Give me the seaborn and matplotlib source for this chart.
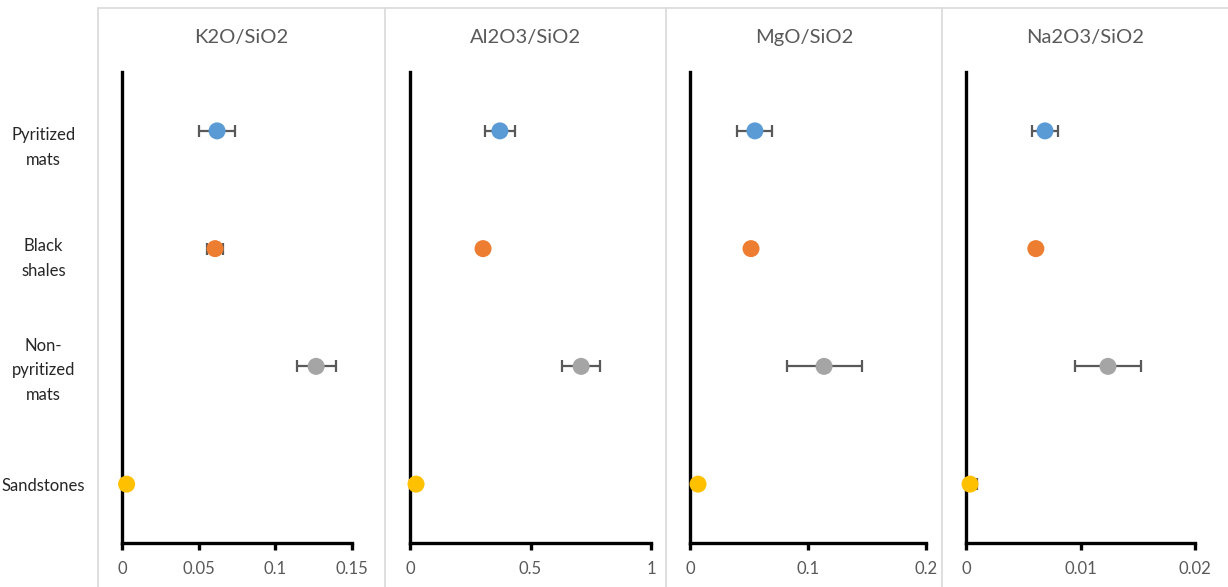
import matplotlib
matplotlib.use("Agg")
import matplotlib.pyplot as plt
import matplotlib.transforms as mtransforms
import seaborn as sns
import pandas as pd
from matplotlib.lines import Line2D

# Sample groups, top to bottom
groups = ["Pyritized\nmats", "Black\nshales", "Non-\npyritized\nmats", "Sandstones"]
group_colors = ["#5B9BD5", "#ED7D31", "#A5A5A5", "#FFC000"]

# Oxide ratios: mean and error for each group
ratio_titles = ["K2O/SiO2", "Al2O3/SiO2", "MgO/SiO2", "Na2O3/SiO2"]

k2o_mean = [0.062, 0.0607, 0.1266, 0.003]
k2o_err = [0.0117, 0.005, 0.0127, 0.0]

al2o3_mean = [0.373, 0.303, 0.710, 0.025]
al2o3_err = [0.062, 0.0, 0.079, 0.0]

mgo_mean = [0.055, 0.0517, 0.1136, 0.0068]
mgo_err = [0.0148, 0.0, 0.0318, 0.0]

na2o3_mean = [0.0069, 0.0061, 0.0124, 0.00035]
na2o3_err = [0.00114, 0.0, 0.00288, 0.0006]

x_limits = [0.15, 1.0, 0.2, 0.02]
x_ticks = [[0, 0.05, 0.1, 0.15], [0, 0.5, 1], [0, 0.1, 0.2], [0, 0.01, 0.02]]
x_ticklabels = [["0", "0.05", "0.1", "0.15"], ["0", "0.5", "1"],
                ["0", "0.1", "0.2"], ["0", "0.01", "0.02"]]

means = [k2o_mean, al2o3_mean, mgo_mean, na2o3_mean]
errs = [k2o_err, al2o3_err, mgo_err, na2o3_err]

sns.set_theme(style="white")
plt.rcParams["font.family"] = ["Lato", "DejaVu Sans"]

W, H = 1228, 587
fig = plt.figure(figsize=(W / 100, H / 100), dpi=100)

# Pixel geometry of each panel: (axis left, axis right) and box edges
axis_px = [(122, 352), (410, 651), (690, 926), (966, 1195)]
box_edges = [98, 385, 666, 942, 1228]
axis_top, axis_bottom = 72, 543
box_top = 8
text_gray = "#595959"
border_gray = "#D9D9D9"
# Vertical nudge of the category labels, in pixels (negative = down)
label_nudge_px = [-11, -4, 2, 0]

for i in range(4):
    left, right = axis_px[i]
    ax = fig.add_axes([left / W, (H - axis_bottom) / H,
                       (right - left) / W, (axis_bottom - axis_top) / H])
    df = pd.DataFrame({"group": groups, "pos": range(len(groups)),
                       "value": means[i], "err": errs[i]})
    for _, row in df.iterrows():
        if row["err"] > 0:
            ax.errorbar(row["value"], row["pos"], xerr=row["err"], fmt="none",
                        ecolor=text_gray, elinewidth=1.6, capsize=4.5,
                        capthick=1.6, zorder=2)
    sns.scatterplot(data=df, x="value", y="pos", hue="group",
                    palette=group_colors, s=150, edgecolor="none",
                    legend=False, ax=ax, zorder=3, clip_on=False)
    ax.set_xlim(0, x_limits[i])
    ax.set_ylim(len(groups) - 0.5, -0.5)
    ax.set_xticks(x_ticks[i])
    ax.set_xticklabels(x_ticklabels[i], color=text_gray, fontsize=12)
    ax.set_xlabel("")
    ax.set_ylabel("")
    for side in ["top", "right"]:
        ax.spines[side].set_visible(False)
    for side in ["left", "bottom"]:
        ax.spines[side].set_color("black")
        ax.spines[side].set_linewidth(2.4)
    ax.tick_params(axis="x", bottom=True, direction="out", length=5,
                   width=2.4, color="black", pad=8)
    ax.set_yticks(range(len(groups)))
    if i == 0:
        ax.set_yticklabels(groups, fontsize=12, color="#262626",
                           ha="center", linespacing=1.65)
        ax.tick_params(axis="y", left=False, pad=50.5)
        for lab, dy in zip(ax.get_yticklabels(), label_nudge_px):
            shift = mtransforms.ScaledTranslation(0, dy / 100, fig.dpi_scale_trans)
            lab.set_transform(lab.get_transform() + shift)
    else:
        ax.set_yticklabels([])
        ax.tick_params(axis="y", left=False)
    ax.patch.set_alpha(0)

    # Panel title centred over its box
    cx = (box_edges[i] + box_edges[i + 1]) / 2
    fig.text(cx / W, (H - 38) / H, ratio_titles[i], ha="center", va="center",
             fontsize=14.5, color=text_gray)

# Thin frame separating the panels
for x in box_edges[:-1]:
    fig.add_artist(Line2D([x / W, x / W], [0, (H - box_top) / H],
                          color=border_gray, linewidth=1.2))
fig.add_artist(Line2D([box_edges[0] / W, 1], [(H - box_top) / H] * 2,
                      color=border_gray, linewidth=1.2))

fig.savefig("out.png", dpi=100, facecolor="white")
